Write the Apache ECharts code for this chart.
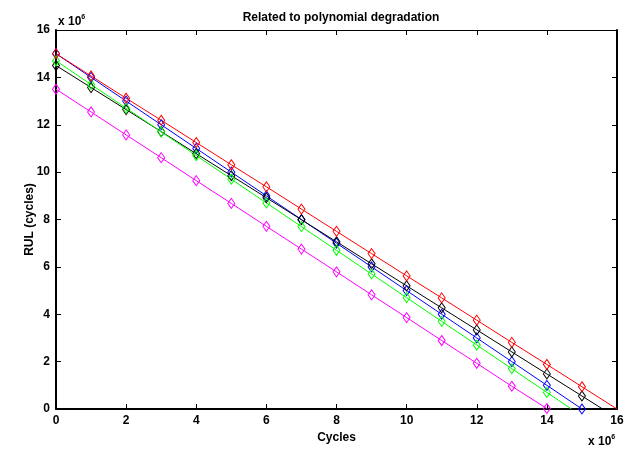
<!DOCTYPE html>
<html>
<head>
<meta charset="utf-8">
<script src="https://cdn.jsdelivr.net/npm/echarts@6/dist/echarts.min.js"></script>
<style>
  html, body { margin: 0; padding: 0; background: #fff; }
  #main { width: 638px; height: 451px; }
</style>
</head>
<body>
<div id="main"></div>
<script>
// cycles (x 10^6) where markers sit
var cycles = [0, 1, 2, 3, 4, 5, 6, 7, 8, 9, 10, 11, 12, 13, 14, 15];

// RUL values (x 10^6) read at each marker
var blueRul = [15, 14, 13, 12, 11, 10, 9, 8, 7, 6, 5, 4, 3, 2, 1, 0];
var blackRul = [14.5, 13.57, 12.64, 11.71, 10.78, 9.85, 8.92, 7.99, 7.06, 6.13, 5.2, 4.27, 3.34, 2.41, 1.48, 0.55];
var greenRul = [14.7, 13.7, 12.7, 11.7, 10.7, 9.7, 8.7, 7.7, 6.7, 5.7, 4.7, 3.7, 2.7, 1.7, 0.7];
var magentaRul = [13.5, 12.54, 11.57, 10.61, 9.64, 8.68, 7.71, 6.75, 5.79, 4.82, 3.86, 2.89, 1.93, 0.96, 0.02];
var redRul = [15, 14.06, 13.12, 12.19, 11.25, 10.31, 9.38, 8.44, 7.5, 6.56, 5.62, 4.69, 3.75, 2.81, 1.88, 0.94];

// where each line reaches zero RUL (no marker there)
var blackEnd = 15.59;
var greenEnd = 14.7;
var redEnd = 16;

var xTicks = [0, 2, 4, 6, 8, 10, 12, 14, 16];
var yTicks = [0, 2, 4, 6, 8, 10, 12, 14, 16];

var myChart = echarts.init(document.getElementById('main'));
var font = 'Liberation Sans, Arial, sans-serif';

function makeData(ys, endX) {
    var d = [];
    for (var i = 0; i < ys.length; i++) d.push([cycles[i], ys[i]]);
    if (endX != null) d.push({ value: [endX, 0], symbol: 'none' });
    return d;
}

function makeSeries(name, color, ys, endX) {
    return {
        name: name,
        type: 'line',
        data: makeData(ys, endX),
        symbol: 'diamond',
        symbolSize: [7, 10],
        showAllSymbol: true,
        lineStyle: { color: color, width: 1 },
        itemStyle: { color: 'rgba(255,255,255,0)', borderColor: color, borderWidth: 1 },
        animation: false,
        clip: false
    };
}

var axisCommon = {
    type: 'value',
    min: 0,
    max: 16,
    interval: 2,
    splitLine: { show: false },
    axisLine: { show: true, onZero: false, lineStyle: { color: '#000', width: 2 } },
    axisTick: { show: true, inside: true, length: 5, lineStyle: { color: '#000', width: 1 } }
};

var sup = {
    b: { fontFamily: font, fontSize: 12, fontWeight: 'bold', fill: '#000' },
    s: { fontFamily: font, fontSize: 7, fontWeight: 'bold', fill: '#000', verticalAlign: 'top', padding: [0, 0, 8, 0] }
};

var option = {
    backgroundColor: '#fff',
    animation: false,
    title: {
        text: 'Related to polynomial degradation',
        left: 336,
        top: 7,
        textAlign: 'center',
        textStyle: { fontFamily: font, fontSize: 12, fontWeight: 'bold', color: '#000' }
    },
    grid: { left: 56, right: 21, top: 30, bottom: 42 },
    xAxis: [
        Object.assign({}, axisCommon, {
            position: 'bottom',
            name: 'Cycles',
            nameLocation: 'middle',
            nameGap: 20,
            nameTextStyle: { fontFamily: font, fontSize: 12, fontWeight: 'bold', color: '#000' },
            axisLabel: {
                fontFamily: font, fontSize: 12, fontWeight: 'bold', color: '#000', margin: 6,
                formatter: function (v) { return xTicks.indexOf(v) >= 0 ? String(v) : ''; }
            }
        }),
        Object.assign({}, axisCommon, {
            position: 'top',
            axisLabel: { show: false },
            axisLine: { show: true, onZero: false, lineStyle: { color: '#000', width: 1 } }
        })
    ],
    yAxis: [
        Object.assign({}, axisCommon, {
            position: 'left',
            name: 'RUL (cycles)',
            nameLocation: 'middle',
            nameGap: 20,
            nameMoveOverlap: false,
            nameRotate: 90,
            nameTextStyle: { fontFamily: font, fontSize: 12, fontWeight: 'bold', color: '#000' },
            axisLabel: {
                fontFamily: font, fontSize: 12, fontWeight: 'bold', color: '#000', margin: 6,
                formatter: function (v) { return yTicks.indexOf(v) >= 0 ? String(v) : ''; }
            }
        }),
        Object.assign({}, axisCommon, {
            position: 'right',
            axisLabel: { show: false },
            axisLine: { show: true, onZero: false, lineStyle: { color: '#000', width: 2 } }
        })
    ],
    graphic: [
        { type: 'text', left: 58, top: 14, style: { text: '{b|x 10}{s|6}', rich: sup } },
        { type: 'text', left: 588, top: 434, style: { text: '{b|x 10}{s|6}', rich: sup } }
    ],
    series: [
        makeSeries('blue', '#0000ff', blueRul, null),
        makeSeries('black', '#000000', blackRul, blackEnd),
        makeSeries('green', '#00ff00', greenRul, greenEnd),
        makeSeries('magenta', '#ff00ff', magentaRul, null),
        makeSeries('red', '#ff0000', redRul, redEnd)
    ]
};

myChart.setOption(option);
</script>
</body>
</html>
